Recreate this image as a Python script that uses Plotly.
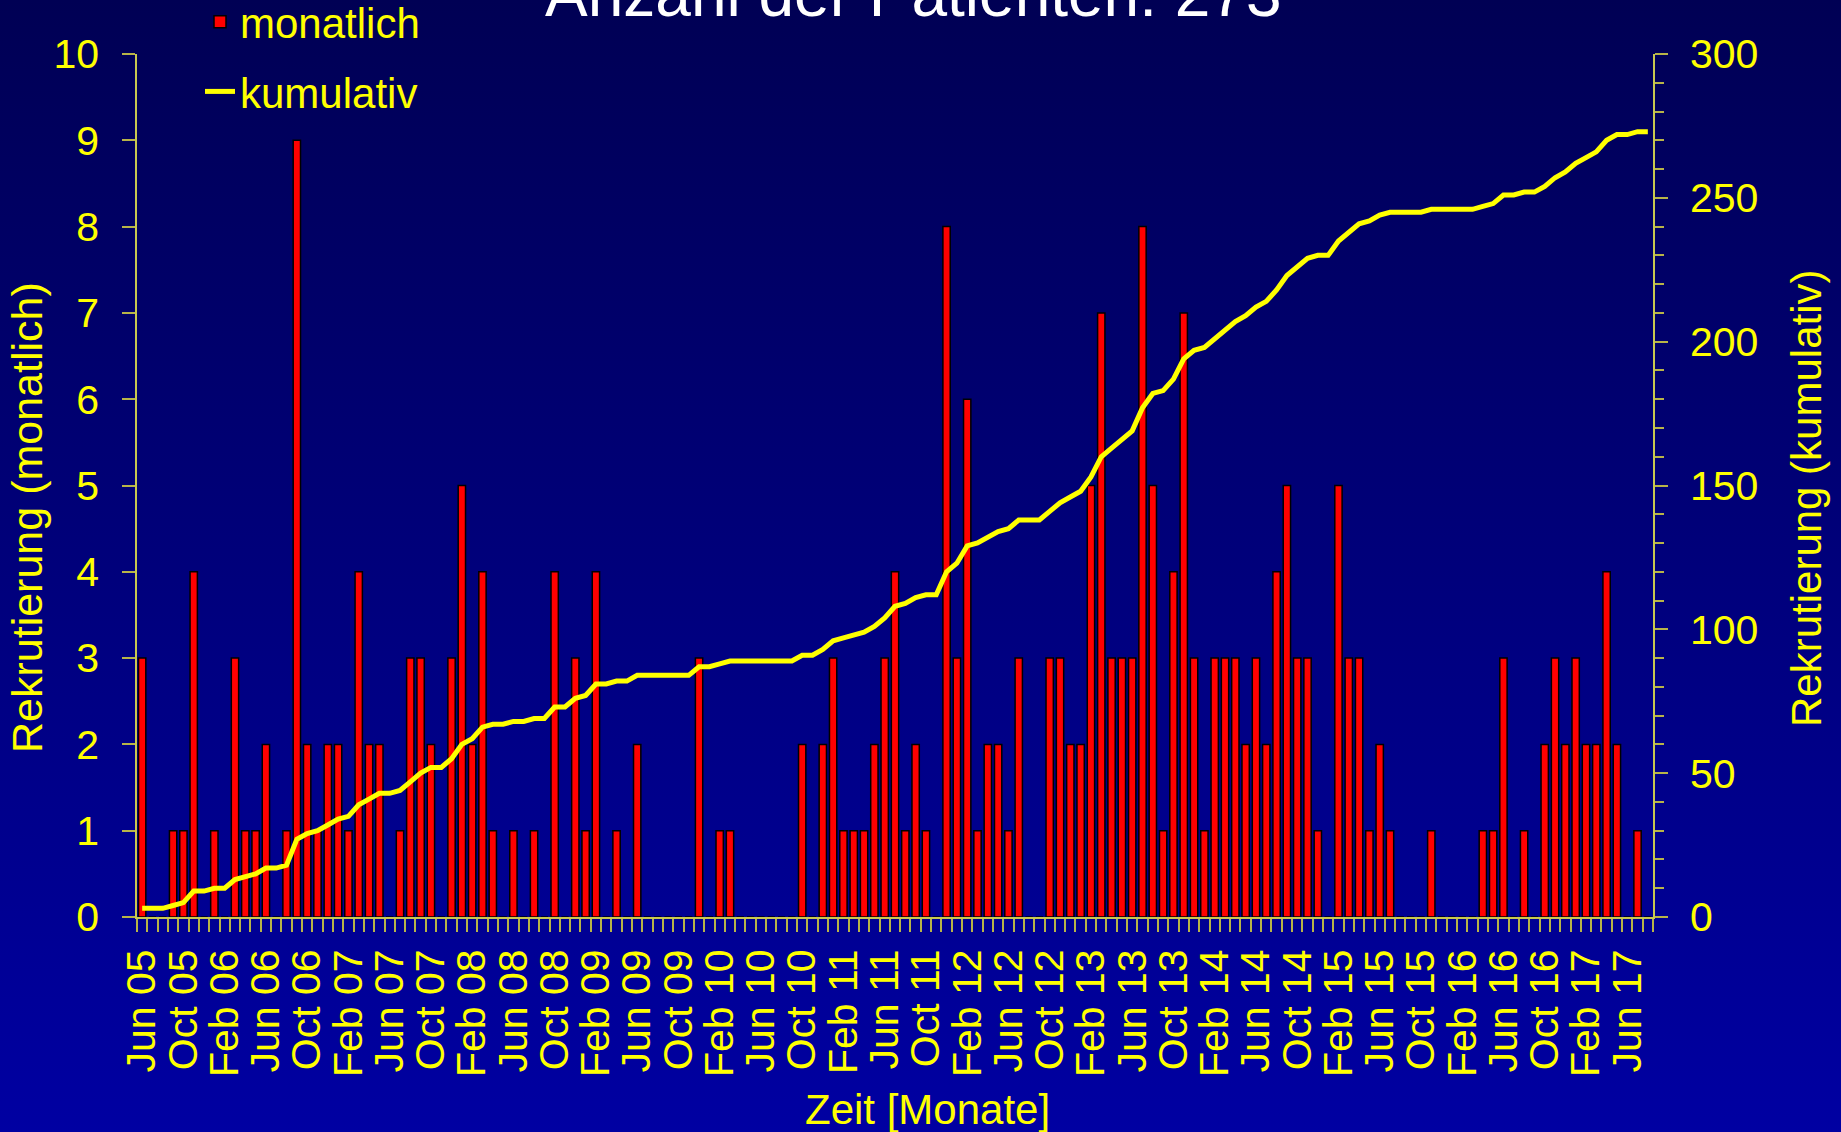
import base64
from itertools import accumulate
import plotly.graph_objects as go

# ---------------- data ----------------
month_abbr = ["Jan", "Feb", "Mar", "Apr", "May", "Jun",
              "Jul", "Aug", "Sep", "Oct", "Nov", "Dec"]
# categories: one per month, Jun 05 ... Aug 17 (147 months)
months = [f"{month_abbr[(5 + k) % 12]} {5 + (5 + k) // 12:02d}" for k in range(147)]

monatlich = [
    3, 0, 0, 1, 1, 4, 0, 1, 0, 3,
    1, 1, 2, 0, 1, 9, 2, 1, 2, 2,
    1, 4, 2, 2, 0, 1, 3, 3, 2, 0,
    3, 5, 2, 4, 1, 0, 1, 0, 1, 0,
    4, 0, 3, 1, 4, 0, 1, 0, 2, 0,
    0, 0, 0, 0, 3, 0, 1, 1, 0, 0,
    0, 0, 0, 0, 2, 0, 2, 3, 1, 1,
    1, 2, 3, 4, 1, 2, 1, 0, 8, 3,
    6, 1, 2, 2, 1, 3, 0, 0, 3, 3,
    2, 2, 5, 7, 3, 3, 3, 8, 5, 1,
    4, 7, 3, 1, 3, 3, 3, 2, 3, 2,
    4, 5, 3, 3, 1, 0, 5, 3, 3, 1,
    2, 1, 0, 0, 0, 1, 0, 0, 0, 0,
    1, 1, 3, 0, 1, 0, 2, 3, 2, 3,
    2, 2, 4, 2, 0, 1, 0,
]
kumulativ = list(accumulate(monatlich))

tick_labels = [
    "Jun 05", "Oct 05", "Feb 06", "Jun 06", "Oct 06", "Feb 07", "Jun 07", "Oct 07",
    "Feb 08", "Jun 08", "Oct 08", "Feb 09", "Jun 09", "Oct 09", "Feb 10", "Jun 10",
    "Oct 10", "Feb 11", "Jun 11", "Oct 11", "Feb 12", "Jun 12", "Oct 12", "Feb 13",
    "Jun 13", "Oct 13", "Feb 14", "Jun 14", "Oct 14", "Feb 15", "Jun 15", "Oct 15",
    "Feb 16", "Jun 16", "Oct 16", "Feb 17", "Jun 17",
]
ticktext = [m if m in tick_labels else "" for m in months]

title_text = "Anzahl der Patienten: 273"

# ---------------- styling ----------------
FONT = "Arial, Liberation Sans, sans-serif"
YEL = "#FFFF00"
TICKC = "#B8B448"
LINEC = "#C8C850"

W, H = 1841, 1132
ML, MR, MT, MB = 137, 188, 54, 215
pw = W - ML - MR
ph = H - MT - MB

svg = ('<svg xmlns="http://www.w3.org/2000/svg" width="100" height="100" '
       'viewBox="0 0 100 100" preserveAspectRatio="none">'
       '<defs><linearGradient id="g" x1="0" y1="0" x2="0" y2="1">'
       '<stop offset="0" stop-color="#000054"/>'
       '<stop offset="1" stop-color="#0000A2"/>'
       '</linearGradient></defs>'
       '<rect x="0" y="0" width="100" height="100" fill="url(#g)"/></svg>')
bg_src = "data:image/svg+xml;base64," + base64.b64encode(svg.encode()).decode()

fig = go.Figure()
fig.add_trace(go.Bar(
    x=months, y=monatlich, name="monatlich", legendgroup="a",
    marker=dict(color="#FF0000", line=dict(color="#000000", width=1.5)),
    yaxis="y",
))
fig.add_trace(go.Scatter(
    x=months, y=kumulativ, name="kumulativ", legendgroup="b",
    mode="lines", line=dict(color=YEL, width=5),
    yaxis="y2",
))

fig.update_layout(
    width=W, height=H,
    margin=dict(l=ML, r=MR, t=MT, b=MB, autoexpand=False),
    paper_bgcolor="#000078",
    plot_bgcolor="rgba(0,0,0,0)",
    bargap=0.29,
    font=dict(family=FONT, color=YEL, size=41),
    images=[dict(
        source=bg_src, xref="paper", yref="paper",
        x=-ML / pw, y=1 + MT / ph, sizex=W / pw, sizey=H / ph,
        xanchor="left", yanchor="top", sizing="stretch", layer="below",
    )],
    showlegend=True,
    legend=dict(
        x=(200 - ML) / pw, y=1 + (MT + 12) / ph, xanchor="left", yanchor="top",
        bgcolor="rgba(0,0,0,0)", borderwidth=0,
        font=dict(family=FONT, color=YEL, size=42),
        traceorder="grouped", tracegroupgap=12,
    ),
    xaxis=dict(
        type="category", range=[-0.5, len(months) - 0.5],
        tickmode="array", tickvals=months, ticktext=ticktext,
        tickangle=-90, tickson="boundaries",
        ticks="outside", ticklen=13, tickwidth=1.5, tickcolor=TICKC,
        showline=True, linecolor=LINEC, linewidth=2,
        showgrid=False, zeroline=False,
        tickfont=dict(family=FONT, color=YEL, size=41),
        ticklabelstandoff=14,
    ),
    yaxis=dict(
        range=[0, 10], dtick=1, tick0=0,
        ticks="outside", ticklen=13, tickwidth=1.5, tickcolor=TICKC,
        showline=True, linecolor=LINEC, linewidth=1.5,
        showgrid=False, zeroline=False,
        tickfont=dict(family=FONT, color=YEL, size=41),
        ticklabelstandoff=15,
    ),
    yaxis2=dict(
        overlaying="y", side="right", anchor="x",
        range=[0, 300], dtick=50, tick0=0,
        ticks="outside", ticklen=13, tickwidth=1.5, tickcolor=TICKC,
        minor=dict(dtick=10, ticks="outside", ticklen=9, tickwidth=1.5, tickcolor=TICKC),
        showline=True, linecolor=LINEC, linewidth=1.5,
        showgrid=False, zeroline=False,
        tickfont=dict(family=FONT, color=YEL, size=41),
        ticklabelstandoff=14,
    ),
    annotations=[
        dict(text=title_text, xref="paper", yref="paper",
             x=(913 - ML) / pw, y=1 + (MT - 32) / ph, xanchor="center", yanchor="bottom",
             showarrow=False, font=dict(family=FONT, color="#FFFFFF", size=64)),
        dict(text="Zeit [Monate]", xref="paper", yref="paper",
             x=(927 - ML) / pw, y=-(1109 - MT - ph) / ph, xanchor="center", yanchor="middle",
             showarrow=False, font=dict(family=FONT, color=YEL, size=42)),
        dict(text="Rekrutierung (monatlich)", xref="paper", yref="paper", textangle=-90,
             x=(27 - ML) / pw, y=(MT + ph - 518) / ph, xanchor="center", yanchor="middle",
             showarrow=False, font=dict(family=FONT, color=YEL, size=43)),
        dict(text="Rekrutierung (kumulativ)", xref="paper", yref="paper", textangle=-90,
             x=(1806 - ML) / pw, y=(MT + ph - 498) / ph, xanchor="center", yanchor="middle",
             showarrow=False, font=dict(family=FONT, color=YEL, size=42)),
    ],
)

fig.write_html(
    "out.html",
    config={"displayModeBar": False},
    post_script="document.body.style.margin='0px';document.body.style.overflow='hidden';",
)
